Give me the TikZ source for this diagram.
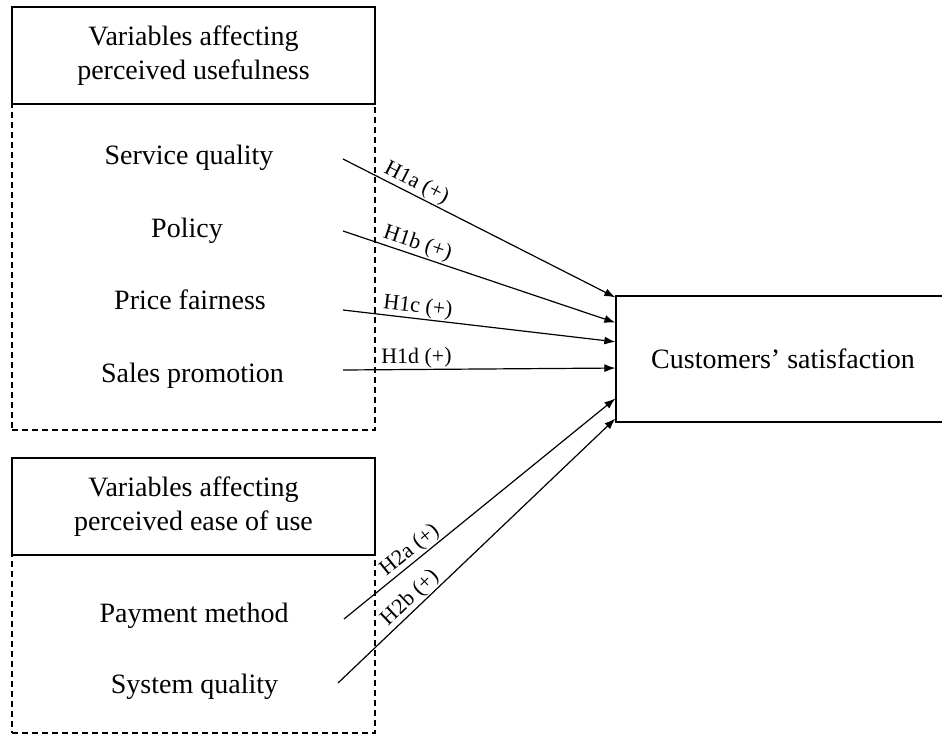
\documentclass[tikz,border=0pt]{standalone}
\usepackage{fontspec}
\setmainfont{Liberation Serif}
\usetikzlibrary{arrows.meta}
\usetikzlibrary{calc}
\def\boxWidth{363pt}
\newcommand\bigtext{\fontsize{28}{34}\selectfont}

\begin{document}
\begin{tikzpicture}[
    x=1pt, y=-1pt,
    arrowtip/.style={
      line width=1.2pt, -{Latex[length=11pt,width=8pt]}
    },
    headbox/.style={draw, line width=1.3pt, minimum width=\boxWidth,
      minimum height=97pt, inner sep=0pt, align=center, font=\bigtext},
    dashbox/.style={draw, dash pattern=on 6pt off 4pt, line width=1.2pt,
      minimum width=\boxWidth, inner sep=0pt},
    varnode/.style={anchor=base, font=\bigtext},
    hyplabel/.style={above, sloped, pos=0.27, inner sep=1pt,
      font=\fontsize{22}{26}\selectfont}
  ]
    \useasboundingbox (0,0) rectangle (942,736);

    % perceived usefulness
    \node[dashbox, minimum height=326pt] (usefulFrame) at (193.5,267) {};
    \node[headbox] (usefulHead) at (193.5,55.5)
      {Variables affecting\\perceived usefulness};
    \node[varnode] (service) at (189,164) {Service quality};
    \node[varnode] (policy) at (187,237) {Policy};
    \node[varnode] (price) at (190,309) {Price fairness};
    \node[varnode] (promo) at (192.5,382) {Sales promotion};

    % perceived ease of use
    \node[dashbox, minimum height=178pt] (easeFrame) at (193.5,644) {};
    \node[headbox] (easeHead) at (193.5,506.5)
      {Variables affecting\\perceived ease of use};
    \node[varnode] (payment) at (194,622) {Payment method};
    \node[varnode] (system) at (194.5,693) {System quality};

    % outcome
    \node[draw, line width=1.3pt, minimum width=334pt, minimum height=126pt,
      font=\bigtext] (sat) at (783,359) {Customers’ satisfaction};

    \coordinate (serviceStart) at (343,159);
    \coordinate (policyStart) at (343,231);
    \coordinate (priceStart) at (343,310);
    \coordinate (promoStart) at (343,370);
    \coordinate (paymentStart) at (344,619);
    \coordinate (systemStart) at (338,683);

    \draw[arrowtip] (serviceStart) -- node[hyplabel, pos=0.25] {H1a (+)}
      ($(sat.north west)!0.016!(sat.south west)$);
    \draw[arrowtip] (policyStart) -- node[hyplabel, pos=0.26] {H1b (+)}
      ($(sat.north west)!0.214!(sat.south west)$);
    \draw[arrowtip] (priceStart) -- node[hyplabel] {H1c (+)}
      ($(sat.north west)!0.365!(sat.south west)$);
    \draw[arrowtip] (promoStart) -- node[hyplabel] {H1d (+)}
      ($(sat.north west)!0.571!(sat.south west)$);
    \draw[arrowtip] (paymentStart) -- node[hyplabel] {H2a (+)}
      ($(sat.north west)!0.81!(sat.south west)$);
    \draw[arrowtip] (systemStart) -- node[hyplabel, pos=0.29] {H2b (+)}
      ($(sat.north west)!0.968!(sat.south west)$);
  \end{tikzpicture}
\end{document}
